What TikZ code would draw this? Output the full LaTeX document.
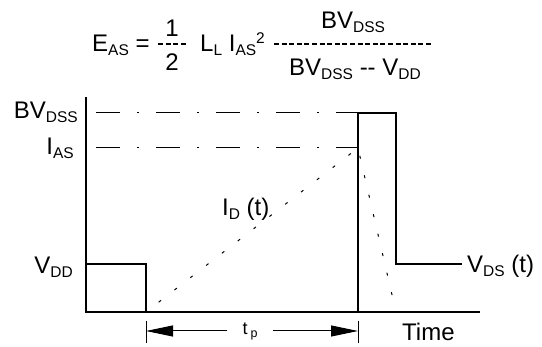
\documentclass[tikz,border=0pt]{standalone}
\usepackage{fontspec}
\setmainfont{Liberation Sans}
\usepackage{tikz}
\usetikzlibrary{positioning,calc,arrows.meta}
\newcommand{\mainsz}{\fontsize{24}{27}\selectfont}
\newcommand{\subsz}{\fontsize{15.5}{16}\selectfont}
\newcommand{\lo}[1]{\raisebox{-4pt}{\subsz #1}}
\newcommand{\hi}[1]{\raisebox{8.5pt}{\subsz #1}}
\newcommand{\hy}{-\kern0pt}
\tikzset{
    axisline/.style={draw=black, line width=1.5pt},
    pulseline/.style={draw=black, line width=1.2pt},
    levelline/.style={draw=black, line width=1pt, dash pattern=on 24pt off 17pt on 2pt off 17pt},
    rampline/.style={draw=black, line width=1pt, dash pattern=on 3pt off 17pt, dash phase=-16pt},
    fracline/.style={draw=black, line width=1.6pt, dash pattern=on 5pt off 2.6pt},
    txt/.style={font=\mainsz, inner sep=0pt}
}

\begin{document}
\begin{tikzpicture}[
        x=1pt, y=-1pt,
        % Nhan ben trai truc doc
        axislabel/.style={txt, anchor=base east},
        % Mui ten do rong xung
        dimarrow/.style={draw=black, line width=1pt, -{Triangle[length=27pt, width=11pt]}},
        tick/.style={draw=black, line width=1pt}
    ]
        \useasboundingbox (0,0) rectangle (542,347);

        % --- 1. CONG THUC ---
        \node[txt, anchor=base west] (eas) at (92,52) {E\lo{AS} =};
        \node[txt, anchor=base] (one) at (172,37) {1};
        \node[txt, anchor=base] (two) at (172,71) {2};
        \coordinate (hbl) at (158,44);
        \coordinate (hbr) at (186,44);
        \draw[fracline] (hbl) -- (hbr);
        \node[txt, anchor=base west] (lias) at (200,52) {L\lo{L} I\lo{AS}\hi{2}};
        \node[txt, anchor=base] (num) at (353,29) {BV\lo{DSS}};
        \coordinate (fbl) at (274,44);
        \coordinate (fbr) at (431,44);
        \draw[fracline] (fbl) -- (fbr);
        \node[txt, anchor=base] (den) at (355,76) {BV\lo{DSS} \hy\hy\ V\lo{DD}};

        % --- 2. TRUC TOA DO ---
        \coordinate (ytop) at (86,97);
        \coordinate (o) at (86,312);
        \coordinate (xend) at (480,312);
        \draw[axisline] (ytop) -- (o) -- (xend);

        \node[axislabel] (lbv) at (78,119) {BV\lo{DSS}};
        \node[axislabel] (lias2) at (74,155) {I\lo{AS}};
        \node[axislabel] (lvdd) at (73,274) {V\lo{DD}};

        % --- 3. MUC BV_DSS, I_AS ---
        \coordinate (bvl) at (96,113);
        \coordinate (bvr) at (358,113);
        \coordinate (iasl) at (96,148);
        \coordinate (iasr) at (358,148);
        \draw[levelline] (bvl) -- (bvr);
        \draw[levelline] (iasl) -- (iasr);

        % --- 4. XUNG V_DS ---
        \coordinate (vdd) at (86,264);
        \coordinate (t0) at (146,264);
        \coordinate (t0b) at (146,312);
        \coordinate (t1b) at (358,312);
        \coordinate (t2) at (396,113);
        \coordinate (t2b) at (396,264);
        \coordinate (vend) at (462,264);
        \draw[pulseline] (vdd) -- (t0) -- (t0b);
        \draw[pulseline] (t1b) -- (bvr) -- (t2) -- (t2b) -- (vend);
        \node[txt, anchor=base west] (lvds) at (467,273) {V\lo{DS} (t)};

        % --- 5. DONG I_D ---
        \coordinate (idend) at (396,312);
        \draw[rampline] (t0b) -- (iasr) -- (idend);
        \node[txt, anchor=base west] (lid) at (222,216) {I\lo{D} (t)};

        % --- 6. DO RONG XUNG t_p ---
        \coordinate (tl) at (146,331);
        \coordinate (tr) at (358,331);
        \draw[tick] ([yshift=10pt]tl) -- ([yshift=-12pt]tl);
        \draw[tick] ([yshift=10pt]tr) -- ([yshift=-12pt]tr);
        \node[inner xsep=15pt, inner ysep=2pt] (tp) at (250,331)
            {\fontsize{18}{18}\selectfont t\,\raisebox{-3pt}{\fontsize{12.5}{13}\selectfont p}};
        \draw[dimarrow] (tp) -- (tl);
        \draw[dimarrow] (tp) -- (tr);

        \node[txt, anchor=base west] (ltime) at (402,341) {Time};

\end{tikzpicture}
\end{document}
